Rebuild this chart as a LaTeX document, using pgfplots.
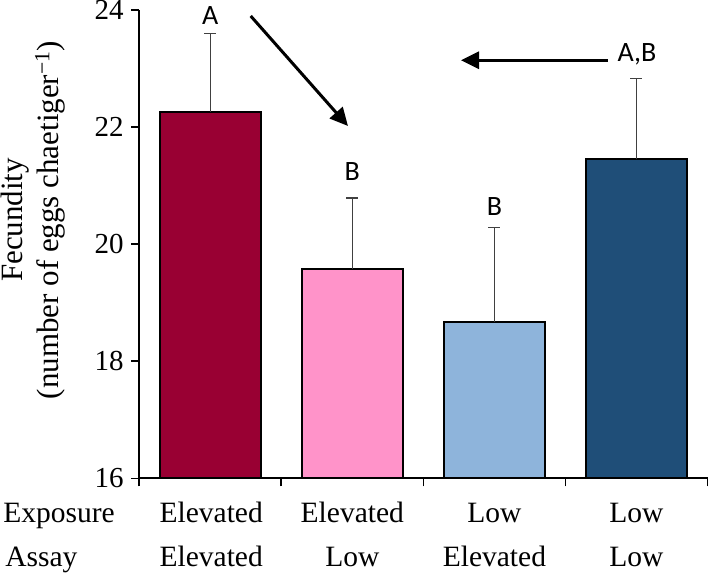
\documentclass[border=0pt]{standalone}
\usepackage{fontspec}
\setmainfont{Liberation Serif}
\newfontfamily\carlito{Carlito}
\usepackage{pgfplots}
\pgfplotsset{compat=1.18}
\usetikzlibrary{arrows.meta}
\definecolor{cA}{HTML}{990033}
\definecolor{cB}{HTML}{FF93C9}
\definecolor{cC}{HTML}{8EB4DB}
\definecolor{cD}{HTML}{1F4E78}
\definecolor{ebar}{HTML}{404040}
\pgfplotsset{myerr/.style={
    error bars/y dir=plus, error bars/y explicit,
    error bars/error bar style={line width=1.2pt, draw=ebar},
    error bars/error mark options={rotate=90, line width=1.2pt, mark size=6pt, draw=ebar}}}
\begin{document}
\begin{tikzpicture}
\path[use as bounding box] (-139.2pt,-95.7pt) rectangle (569.8pt,478.3pt);
\begin{axis}[
  at={(0pt,0pt)}, anchor=south west,
  scale only axis, width=568.3pt, height=468.3pt,
  xmin=-0.5, xmax=3.5, ymin=16, ymax=24,
  axis x line*=bottom, axis y line*=left,
  axis line style={line width=2pt},
  xtick={-0.5,0.5,1.5,2.5,3.5}, xticklabels={},
  ytick={16,18,20,22,24},
  tick align=outside, major tick length=8pt,
  tick style={line width=1.6pt, black},
  yticklabel style={font=\fontsize{29}{30}\selectfont, xshift=-4pt},
  /pgf/number format/assume math mode=true,
  clip mode=individual,
  ybar, bar width=100.7pt,
]
\addplot[fill=cA, draw=black, line width=2pt, bar shift=0pt, myerr] coordinates {(0,22.26) +- (0,1.34)};
\addplot[fill=cB, draw=black, line width=2pt, bar shift=0pt, myerr] coordinates {(1,19.58) +- (0,1.21)};
\addplot[fill=cC, draw=black, line width=2pt, bar shift=0pt, myerr] coordinates {(2,18.67) +- (0,1.61)};
\addplot[fill=cD, draw=black, line width=2pt, bar shift=0pt, myerr] coordinates {(3,21.45) +- (0,1.38)};
\node[font=\carlito\fontsize{28}{28}\selectfont, anchor=base, inner sep=0pt] at (axis cs:0,23.744) {A};
\node[font=\carlito\fontsize{28}{28}\selectfont, anchor=base, inner sep=0pt] at (axis cs:1,21.079) {B};
\node[font=\carlito\fontsize{28}{28}\selectfont, anchor=base, inner sep=0pt] at (axis cs:2,20.498) {B};
\node[font=\carlito\fontsize{28}{28}\selectfont, anchor=base, inner sep=0pt] at (axis cs:3.004,23.112) {A,B};
\draw[line width=3pt, -{Triangle[length=18pt,width=17pt]}] (axis cs:0.2848,23.898) -- (axis cs:0.9696,22.018);
\draw[line width=3pt, -{Triangle[length=18pt,width=17pt]}] (axis cs:2.7995,23.141) -- (axis cs:1.765,23.141);
\end{axis}
\begin{scope}[every node/.style={font=\fontsize{29.5}{30}\selectfont, inner sep=0pt}]
\node[anchor=base west] at (-136pt,-44.4pt) {Exposure};
\node[anchor=base west] at (-134pt,-88.4pt) {Assay};
\node[anchor=base] at (72pt,-44.4pt) {Elevated};
\node[anchor=base] at (213.1pt,-44.4pt) {Elevated};
\node[anchor=base] at (355.2pt,-44.4pt) {Low};
\node[anchor=base] at (497.3pt,-44.4pt) {Low};
\node[anchor=base] at (72pt,-88.4pt) {Elevated};
\node[anchor=base] at (213.1pt,-88.4pt) {Low};
\node[anchor=base] at (355.2pt,-88.4pt) {Elevated};
\node[anchor=base] at (497.3pt,-88.4pt) {Low};
\node[rotate=90, align=center, font=\fontsize{31}{36}\selectfont] at (-106.2pt,258.3pt)
  {Fecundity\\(number of eggs chaetiger\textsuperscript{\char"2212 1})};
\end{scope}
\end{tikzpicture}
\end{document}
